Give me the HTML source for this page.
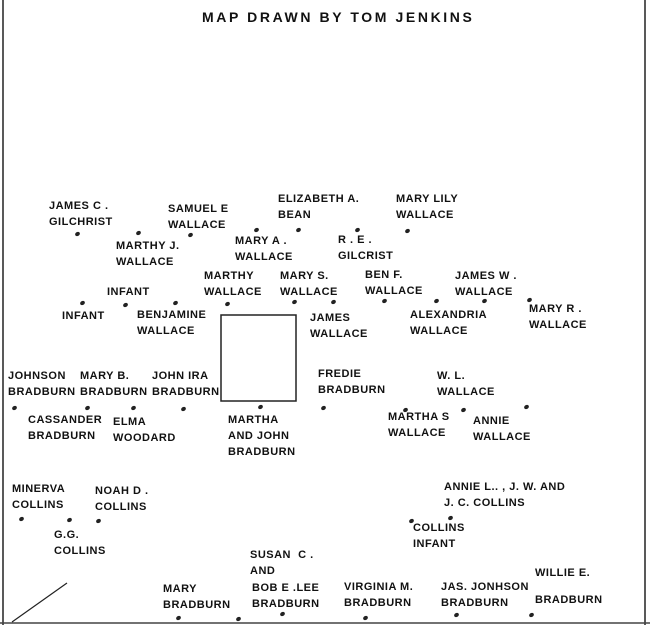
<!DOCTYPE html>
<html><head><meta charset="utf-8"><style>
body{margin:0;background:#fff;}
#c{position:relative;width:650px;height:625px;overflow:hidden;background:#fff;}
.t{position:absolute;font-family:"Liberation Sans",sans-serif;font-weight:bold;font-size:11px;letter-spacing:0.5px;line-height:16px;color:#111;white-space:nowrap;}
.d{position:absolute;width:5px;height:4px;border-radius:50%;background:#222;transform:rotate(-30deg);}
</style></head><body><div id="c">
<svg width="650" height="625" style="position:absolute;left:0;top:0">
<line x1="3" y1="0" x2="3" y2="625" stroke="#222" stroke-width="1.5"/>
<line x1="645" y1="0" x2="645" y2="625" stroke="#222" stroke-width="1.5"/>
<line x1="0" y1="623" x2="650" y2="623" stroke="#444" stroke-width="1.5"/>
<line x1="12" y1="622" x2="67" y2="583" stroke="#222" stroke-width="1.2"/>
<rect x="221" y="315" width="75" height="86" fill="none" stroke="#222" stroke-width="1.5"/>
</svg>
<div class="t" style="left:202px;top:9px;font-size:14px;letter-spacing:2.6px">MAP DRAWN BY TOM JENKINS</div>
<div class="t" style="left:49px;top:198px">JAMES C .<br>GILCHRIST</div>
<div class="t" style="left:168px;top:201px">SAMUEL E<br>WALLACE</div>
<div class="t" style="left:278px;top:191px">ELIZABETH A.<br>BEAN</div>
<div class="t" style="left:396px;top:191px">MARY LILY<br>WALLACE</div>
<div class="t" style="left:116px;top:238px">MARTHY J.<br>WALLACE</div>
<div class="t" style="left:235px;top:233px">MARY A .<br>WALLACE</div>
<div class="t" style="left:338px;top:232px">R . E .<br>GILCRIST</div>
<div class="t" style="left:107px;top:284px">INFANT</div>
<div class="t" style="left:204px;top:268px">MARTHY<br>WALLACE</div>
<div class="t" style="left:280px;top:268px">MARY S.<br>WALLACE</div>
<div class="t" style="left:365px;top:267px">BEN F.<br>WALLACE</div>
<div class="t" style="left:455px;top:268px">JAMES W .<br>WALLACE</div>
<div class="t" style="left:529px;top:301px">MARY R .<br>WALLACE</div>
<div class="t" style="left:62px;top:308px">INFANT</div>
<div class="t" style="left:137px;top:307px">BENJAMINE<br>WALLACE</div>
<div class="t" style="left:310px;top:310px">JAMES<br>WALLACE</div>
<div class="t" style="left:410px;top:307px">ALEXANDRIA<br>WALLACE</div>
<div class="t" style="left:8px;top:368px">JOHNSON<br>BRADBURN</div>
<div class="t" style="left:80px;top:368px">MARY B.<br>BRADBURN</div>
<div class="t" style="left:152px;top:368px">JOHN IRA<br>BRADBURN</div>
<div class="t" style="left:318px;top:366px">FREDIE<br>BRADBURN</div>
<div class="t" style="left:437px;top:368px">W. L.<br>WALLACE</div>
<div class="t" style="left:28px;top:412px">CASSANDER<br>BRADBURN</div>
<div class="t" style="left:113px;top:414px">ELMA<br>WOODARD</div>
<div class="t" style="left:228px;top:412px">MARTHA<br>AND JOHN<br>BRADBURN</div>
<div class="t" style="left:388px;top:409px">MARTHA S<br>WALLACE</div>
<div class="t" style="left:473px;top:413px">ANNIE<br>WALLACE</div>
<div class="t" style="left:12px;top:481px">MINERVA<br>COLLINS</div>
<div class="t" style="left:95px;top:483px">NOAH D .<br>COLLINS</div>
<div class="t" style="left:54px;top:527px">G.G.<br>COLLINS</div>
<div class="t" style="left:444px;top:479px">ANNIE L.. , J. W. AND<br>J. C. COLLINS</div>
<div class="t" style="left:413px;top:520px">COLLINS<br>INFANT</div>
<div class="t" style="left:250px;top:547px">SUSAN &nbsp;C .<br>AND</div>
<div class="t" style="left:252px;top:580px">BOB E .LEE<br>BRADBURN</div>
<div class="t" style="left:163px;top:581px">MARY<br>BRADBURN</div>
<div class="t" style="left:344px;top:579px">VIRGINIA M.<br>BRADBURN</div>
<div class="t" style="left:441px;top:579px">JAS. JONHSON<br>BRADBURN</div>
<div class="t" style="left:535px;top:565px">WILLIE E.</div>
<div class="t" style="left:535px;top:592px">BRADBURN</div>
<div class="d" style="left:75px;top:232px"></div><div class="d" style="left:136px;top:231px"></div>
<div class="d" style="left:188px;top:233px"></div><div class="d" style="left:254px;top:228px"></div>
<div class="d" style="left:296px;top:228px"></div><div class="d" style="left:355px;top:228px"></div>
<div class="d" style="left:405px;top:229px"></div>
<div class="d" style="left:80px;top:301px"></div><div class="d" style="left:123px;top:303px"></div>
<div class="d" style="left:173px;top:301px"></div><div class="d" style="left:225px;top:302px"></div>
<div class="d" style="left:292px;top:300px"></div><div class="d" style="left:331px;top:300px"></div>
<div class="d" style="left:382px;top:299px"></div><div class="d" style="left:434px;top:299px"></div>
<div class="d" style="left:482px;top:299px"></div><div class="d" style="left:527px;top:298px"></div>
<div class="d" style="left:12px;top:406px"></div><div class="d" style="left:85px;top:406px"></div>
<div class="d" style="left:131px;top:406px"></div><div class="d" style="left:181px;top:407px"></div>
<div class="d" style="left:258px;top:405px"></div><div class="d" style="left:321px;top:406px"></div>
<div class="d" style="left:403px;top:408px"></div><div class="d" style="left:461px;top:408px"></div>
<div class="d" style="left:524px;top:405px"></div>
<div class="d" style="left:19px;top:517px"></div><div class="d" style="left:67px;top:518px"></div>
<div class="d" style="left:96px;top:519px"></div><div class="d" style="left:409px;top:519px"></div>
<div class="d" style="left:448px;top:516px"></div>
<div class="d" style="left:176px;top:616px"></div><div class="d" style="left:236px;top:617px"></div>
<div class="d" style="left:280px;top:612px"></div><div class="d" style="left:363px;top:616px"></div>
<div class="d" style="left:454px;top:613px"></div><div class="d" style="left:529px;top:613px"></div>
</div></body></html>
